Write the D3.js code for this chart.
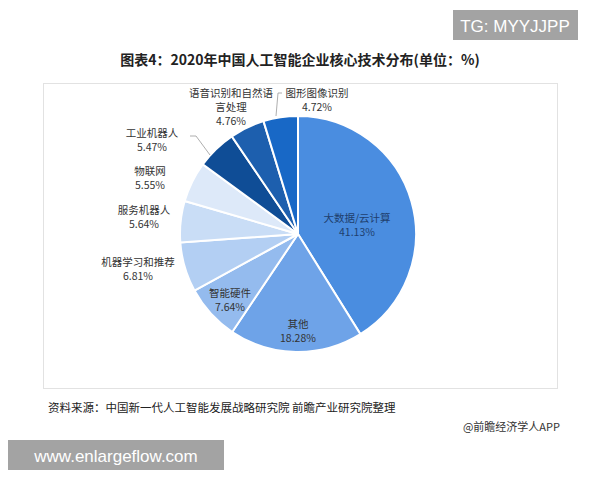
<!DOCTYPE html><html><head><meta charset="utf-8"><script src="https://cdn.jsdelivr.net/npm/d3@7"></script>
<style>body{margin:0;background:#fff;font-family:"Noto Sans CJK SC",sans-serif}</style></head><body><svg width="600" height="480"></svg>
<script>
const categories=["大数据/云计算","其他","智能硬件","机器学习和推荐","服务机器人","物联网","工业机器人","语音识别和自然语言处理","图形图像识别"];
const values=[41.13,18.28,7.64,6.81,5.64,5.55,5.47,4.76,4.72];
const labelLines=[["大数据/云计算"],["其他"],["智能硬件"],["机器学习和推荐"],["服务机器人"],["物联网"],["工业机器人"],["语音识别和自然语","言处理"],["图形图像识别"]];
const colors=["#4a8de0","#6ea3e8","#94bbee","#b3cff3","#c9ddf6","#dde9f9","#0f4d96","#1d5fae","#1868c6"];
const layout=[[357,222,"middle",1],[298,328,"middle",1],[230,297,"middle",1],[138,266,"middle",0],[144,214,"middle",0],[150,175,"middle",0],[152,137,"middle",0],[231,97,"middle",0],[317,97,"middle",0]];
const leaders=[null,null,null,null,null,null,[[190,136],[196,136],[210,155]],null,[[282,93],[278,93],[276,116]]];
const svg=d3.select("svg");
svg.append("rect").attr("x",43.5).attr("y",83.5).attr("width",514).attr("height",305).attr("fill","none").attr("stroke","#e2e2e2");
svg.append("rect").attr("x",453).attr("y",10).attr("width",125).attr("height",30).attr("fill","#a3a3a3");
svg.append("text").attr("x",515).attr("y",32).attr("text-anchor","middle").attr("fill","#fff").attr("font-size",17).attr("font-family","Liberation Sans, sans-serif").text("TG: MYYJJPP");
svg.append("text").attr("x",300).attr("y",65).attr("text-anchor","middle").attr("font-size",14).attr("font-weight","bold").attr("fill","#222").text("图表4：2020年中国人工智能企业核心技术分布(单位：%)");
const cx=298,cy=234,r=118;
const pie=d3.pie().sort(null).value(d=>d)(values);
const arc=d3.arc().innerRadius(0).outerRadius(r);
const g=svg.append("g").attr("transform",`translate(${cx},${cy})`);
g.selectAll("path").data(pie).join("path").attr("d",arc).attr("fill",(d,i)=>colors[i]).attr("stroke","#fff").attr("stroke-width",2);
leaders.forEach(l=>{if(l)svg.append("polyline").attr("points",l.map(p=>p.join(",")).join(" ")).attr("fill","none").attr("stroke","#999").attr("stroke-width",0.8);});
categories.forEach((c,i)=>{const [x,y,a]=layout[i];const t=svg.append("text").attr("text-anchor",a).attr("font-size",10.5).attr("fill",i===0?"#1f3f6e":"#333");
const lines=[...labelLines[i],values[i].toFixed(2)+"%"];
lines.forEach((s,k)=>t.append("tspan").attr("x",x).attr("y",y+k*14).text(s));});
svg.append("text").attr("x",48).attr("y",412).attr("font-size",11.5).attr("fill","#222").text("资料来源：中国新一代人工智能发展战略研究院 前瞻产业研究院整理");
svg.append("text").attr("x",560).attr("y",431).attr("text-anchor","end").attr("font-size",11).attr("fill","#333").text("@前瞻经济学人APP");
svg.append("rect").attr("x",8).attr("y",440).attr("width",216).attr("height",30).attr("fill","#a3a3a3");
svg.append("text").attr("x",116).attr("y",462).attr("text-anchor","middle").attr("fill","#fff").attr("font-size",17).attr("font-family","Liberation Sans, sans-serif").text("www.enlargeflow.com");
</script></body></html>
